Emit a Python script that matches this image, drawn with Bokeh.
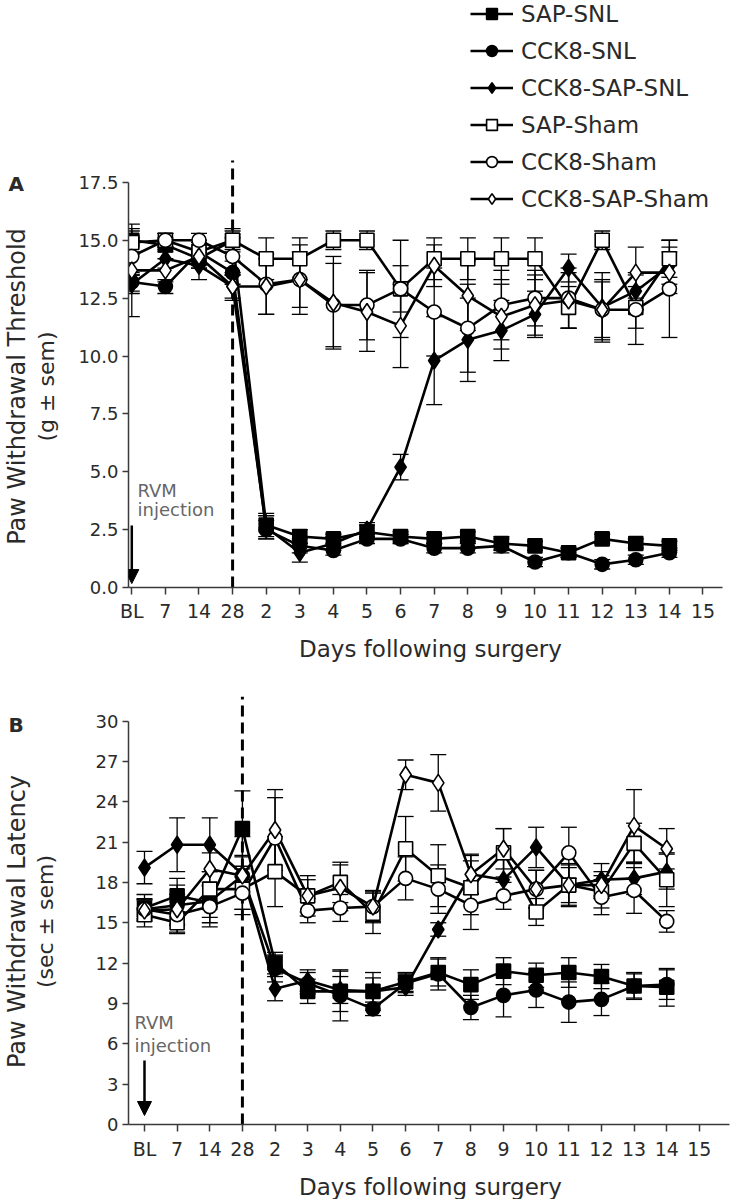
import numpy as np
from bokeh.plotting import figure
from bokeh.models import (ColumnDataSource, Range1d, FixedTicker, Whisker, TeeHead, Label,
                          Arrow, NormalHead, Legend, LegendItem, NumeralTickFormatter)
from bokeh.layouts import column, row
from bokeh.embed import file_html
from bokeh.resources import INLINE

FONT = "DejaVu Sans"

# ---------------- data ----------------
x_labels = ["BL", "7", "14", "28", "2", "3", "4", "5", "6", "7", "8", "9", "10", "11", "12", "13", "14", "15"]
injection_label_index = 3  # the "28" column (RVM injection / surgery boundary)

series_names = ["SAP-SNL", "CCK8-SNL", "CCK8-SAP-SNL", "SAP-Sham", "CCK8-Sham", "CCK8-SAP-Sham"]
series_markers = ["square", "circle", "diamond", "square", "circle", "diamond"]
series_fills = ["black", "black", "black", "white", "white", "white"]

# Panel A: paw withdrawal threshold (g)
a_sap_snl = [15.0, 14.8, 14.2, 15.0, 2.7, 2.2, 2.1, 2.4, 2.2, 2.1, 2.2, 1.9, 1.8, 1.5, 2.1, 1.9, 1.8]
a_cck_snl = [13.2, 13.0, 14.5, 13.6, 2.5, 1.8, 1.6, 2.1, 2.1, 1.7, 1.7, 1.8, 1.1, 1.5, 1.0, 1.2, 1.5]
a_cck_sap_snl = [13.1, 14.2, 13.9, 13.0, 2.6, 1.5, 1.9, 2.5, 5.2, 9.8, 10.7, 11.1, 11.8, 13.8, 12.1, 12.8, 13.9]
a_sap_sham = [14.9, 15.0, 14.5, 15.0, 14.2, 14.2, 15.0, 15.0, 12.9, 14.2, 14.2, 14.2, 14.2, 12.1, 15.0, 12.1, 14.2]
a_cck_sham = [14.3, 15.0, 15.0, 14.3, 13.1, 13.3, 12.2, 12.2, 12.9, 11.9, 11.2, 12.2, 12.5, 12.5, 12.0, 12.0, 12.9]
a_cck_sap_sham = [13.7, 13.7, 14.3, 13.0, 13.0, 13.3, 12.3, 11.9, 11.3, 13.9, 12.6, 11.7, 12.2, 12.4, 12.0, 13.6, 13.6]

a_sap_snl_err = [0.5, 0.3, 0.4, 0.5, 0.5, 0.3, 0.2, 0.3, 0.2, 0.2, 0.2, 0.3, 0.2, 0.2, 0.2, 0.2, 0.2]
a_cck_snl_err = [0.4, 0.3, 0.4, 0.5, 0.4, 0.3, 0.2, 0.2, 0.2, 0.2, 0.2, 0.3, 0.2, 0.2, 0.2, 0.2, 0.2]
a_cck_sap_snl_err = [0.4, 0.4, 0.6, 0.5, 0.5, 0.4, 0.3, 0.3, 0.55, 1.9, 1.8, 1.3, 1.0, 0.6, 1.5, 0.8, 0.8]
a_sap_sham_err = [0.5, 0.3, 0.5, 0.4, 0.9, 0.9, 0.4, 0.4, 2.1, 0.9, 0.9, 0.9, 0.9, 0.9, 0.4, 0.9, 0.8]
a_cck_sham_err = [0.8, 0.3, 0.3, 0.8, 1.3, 1.5, 1.8, 1.5, 1.0, 1.9, 1.9, 1.5, 1.2, 1.3, 1.2, 1.5, 2.1]
a_cck_sap_sham_err = [2.0, 0.5, 0.5, 0.6, 1.2, 1.2, 2.0, 1.7, 1.8, 0.9, 1.5, 1.4, 1.3, 1.2, 1.3, 1.1, 0.9]

# Panel B: paw withdrawal latency (sec)
b_sap_snl = [16.1, 17.0, 16.5, 22.0, 12.0, 9.9, 9.9, 9.9, 10.6, 11.3, 10.4, 11.4, 11.1, 11.3, 11.0, 10.3, 10.2]
b_cck_snl = [16.0, 16.3, 16.6, 18.5, 11.6, 10.5, 9.6, 8.6, 10.5, 11.2, 8.7, 9.6, 10.0, 9.1, 9.3, 10.3, 10.4]
b_cck_sap_snl = [19.1, 20.8, 20.8, 18.6, 10.1, 10.7, 10.0, 9.9, 10.2, 14.5, 18.6, 18.2, 20.6, 17.8, 18.2, 18.3, 18.8]
b_sap_sham = [15.6, 15.0, 17.5, 17.5, 18.8, 17.0, 18.0, 15.7, 20.5, 18.5, 17.6, 20.2, 15.8, 17.8, 17.3, 20.9, 18.2]
b_cck_sham = [16.0, 15.6, 16.2, 17.2, 21.3, 15.9, 16.1, 16.2, 18.3, 17.5, 16.3, 17.0, 17.5, 20.2, 16.9, 17.4, 15.1]
b_cck_sap_sham = [15.9, 16.0, 19.0, 18.5, 21.9, 17.0, 17.6, 16.2, 26.0, 25.4, 18.6, 20.5, 17.5, 17.8, 17.8, 22.2, 20.5]

b_sap_snl_err = [0.6, 1.3, 1.5, 2.8, 0.8, 0.9, 1.5, 1.4, 0.7, 1.0, 1.1, 1.0, 0.9, 1.1, 0.9, 1.0, 1.4]
b_cck_snl_err = [0.7, 1.5, 1.2, 1.5, 1.0, 0.8, 1.9, 0.5, 0.7, 1.2, 0.9, 1.6, 1.3, 1.5, 1.2, 0.9, 1.1]
b_cck_sap_snl_err = [1.2, 2.0, 2.0, 1.3, 0.9, 0.8, 1.0, 1.0, 0.6, 0.5, 1.5, 1.5, 1.5, 1.3, 1.2, 1.2, 1.3]
b_sap_sham_err = [0.5, 0.8, 1.3, 1.5, 2.6, 1.2, 1.5, 1.5, 2.4, 2.3, 2.0, 1.8, 1.0, 1.6, 1.2, 1.5, 2.0]
b_cck_sham_err = [0.8, 1.3, 1.5, 1.2, 3.0, 0.9, 1.0, 1.1, 1.6, 1.8, 1.8, 1.0, 1.4, 1.9, 1.3, 1.7, 0.8]
b_cck_sap_sham_err = [1.2, 1.1, 1.2, 2.9, 3.0, 1.5, 1.7, 1.2, 1.1, 2.1, 1.4, 1.5, 1.4, 1.5, 1.0, 2.7, 1.5]

a_values = [a_sap_snl, a_cck_snl, a_cck_sap_snl, a_sap_sham, a_cck_sham, a_cck_sap_sham]
a_errors = [a_sap_snl_err, a_cck_snl_err, a_cck_sap_snl_err, a_sap_sham_err, a_cck_sham_err, a_cck_sap_sham_err]
b_values = [b_sap_snl, b_cck_snl, b_cck_sap_snl, b_sap_sham, b_cck_sham, b_cck_sap_sham]
b_errors = [b_sap_snl_err, b_cck_snl_err, b_cck_sap_snl_err, b_sap_sham_err, b_cck_sham_err, b_cck_sap_sham_err]

a_yticks = [0, 2.5, 5.0, 7.5, 10.0, 12.5, 15.0, 17.5]
b_yticks = [0, 3, 6, 9, 12, 15, 18, 21, 24, 27, 30]

AXIS_COLOR = "#3a3a3a"
TEXT_COLOR = "#2a2a2a"
GRAY_TEXT = "#666666"

SIDE_W = 62
MAIN_W = 670
TOTAL_H = 1199


def make_panel(values, errors, yticks, yfmt, x_range, y_range, frame_h, border_top, border_bottom,
               xaxis_end, dash_top, arrow_top, arrow_bottom, rvm_pos, tick_standoff, with_legend):
    p = figure(frame_width=MAIN_W - 66, frame_height=frame_h, output_backend="svg",
               toolbar_location=None, x_range=Range1d(*x_range), y_range=Range1d(*y_range),
               title=None, min_border_left=66, min_border_right=0, min_border_top=border_top,
               min_border_bottom=border_bottom)
    p.outline_line_color = None
    p.xgrid.visible = False
    p.ygrid.visible = False

    for ax in (p.xaxis[0], p.yaxis[0]):
        ax.axis_line_color = AXIS_COLOR
        ax.axis_line_width = 1.5
        ax.major_tick_line_color = AXIS_COLOR
        ax.major_tick_line_width = 1.5
        ax.major_tick_in = 0
        ax.minor_tick_line_color = None
        ax.major_label_text_font = FONT
        ax.major_label_text_font_size = "18px"
        ax.major_label_text_color = TEXT_COLOR

    xa = p.xaxis[0]
    xa.ticker = FixedTicker(ticks=list(range(len(x_labels))))
    xa.major_label_overrides = {i: lab for i, lab in enumerate(x_labels)}
    xa.major_label_text_font_size = "19px"
    xa.bounds = (x_range[0], xaxis_end)
    xa.major_tick_out = 7
    xa.major_label_standoff = tick_standoff
    xa.axis_label = "Days following surgery"
    xa.axis_label_text_font = FONT
    xa.axis_label_text_font_size = "23px"
    xa.axis_label_text_font_style = "normal"
    xa.axis_label_text_color = TEXT_COLOR
    xa.axis_label_standoff = 11

    ya = p.yaxis[0]
    ya.ticker = FixedTicker(ticks=yticks)
    ya.formatter = NumeralTickFormatter(format=yfmt)
    ya.bounds = (yticks[0], yticks[-1])
    ya.major_tick_out = 6
    ya.major_label_standoff = 4

    xs = list(range(len(values[0])))
    sources = []
    for vals, errs in zip(values, errors):
        src = ColumnDataSource(dict(
            x=xs, y=vals,
            lower=[v - e for v, e in zip(vals, errs)],
            upper=[v + e for v, e in zip(vals, errs)]))
        sources.append(src)
        w = Whisker(source=src, base="x", upper="upper", lower="lower", dimension="height",
                    line_color="black", line_width=1.3, level="underlay",
                    upper_head=TeeHead(size=16, line_color="black", line_width=1.3),
                    lower_head=TeeHead(size=16, line_color="black", line_width=1.3))
        p.add_layout(w)

    # injection / surgery divider
    p.segment(x0=[injection_label_index], y0=[y_range[0]], x1=[injection_label_index], y1=[dash_top],
              line_color="black", line_width=3, line_dash="11 6")

    line_renderers = []
    for src in sources:
        lr = p.line("x", "y", source=src, line_color="black", line_width=2.6)
        line_renderers.append(lr)
    marker_renderers = []
    for src, mk, fc in zip(sources, series_markers, series_fills):
        size = 17 if mk == "diamond" else 14
        mr = p.scatter("x", "y", source=src, marker=mk, size=size, fill_color=fc,
                       line_color="black", line_width=1.6)
        marker_renderers.append(mr)

    # RVM injection arrow + note
    p.add_layout(Arrow(x_start=0, y_start=arrow_top, x_end=0, y_end=arrow_bottom,
                       line_color="black", line_width=2.5,
                       end=NormalHead(size=14, fill_color="black", line_color="black")))
    rx, ry1, ry2 = rvm_pos
    for yy, t in ((ry1, "RVM"), (ry2, "injection")):
        p.add_layout(Label(x=rx, y=yy, text=t, text_font=FONT, text_font_size="18px",
                           text_color=GRAY_TEXT, text_align="left", text_baseline="middle"))

    if with_legend:
        items = [LegendItem(label=n, renderers=[lr, mr])
                 for n, lr, mr in zip(series_names, line_renderers, marker_renderers)]
        lg = Legend(items=items, location=(342, frame_h - 212), orientation="vertical",
                    label_text_font=FONT, label_text_font_size="23px", label_text_color=TEXT_COLOR,
                    glyph_width=43, glyph_height=27, label_height=27, spacing=10,
                    padding=0, margin=0, label_standoff=8,
                    background_fill_alpha=0, border_line_alpha=0)
        p.add_layout(lg)
    return p


pa = make_panel(a_values, a_errors, a_yticks, "0.0",
                x_range=(-0.098, -0.098 + 604 / 33.6), y_range=(0, 587 / 23.15),
                frame_h=587, border_top=0, border_bottom=78, xaxis_end=17.58,
                dash_top=18.45, arrow_top=2.68, arrow_bottom=0.17,
                rvm_pos=(0.17, 4.19, 3.37), tick_standoff=5, with_legend=True)
pb = make_panel(b_values, b_errors, b_yticks, "0",
                x_range=(-0.49, -0.49 + 604 / 32.64), y_range=(0, 444 / 13.45),
                frame_h=444, border_top=15, border_bottom=75, xaxis_end=17.92,
                dash_top=31.8, arrow_top=4.76, arrow_bottom=0.67,
                rvm_pos=(-0.31, 7.58, 5.87), tick_standoff=6, with_legend=False)

# left strip holding panel letters and y-axis titles (pixel coordinates, y measured from top)
side = figure(width=SIDE_W, height=TOTAL_H, output_backend="svg", toolbar_location=None,
              x_range=Range1d(0, SIDE_W), y_range=Range1d(TOTAL_H, 0), title=None,
              x_axis_location=None, y_axis_location=None, min_border=0)
side.outline_line_color = None
side.xgrid.visible = False
side.ygrid.visible = False

side_texts = [
    (8, 183, "A", "20px", "bold", 0.0, "left"),
    (16, 386, "Paw Withdrawal Threshold", "24px", "normal", np.pi / 2, "center"),
    (46, 386, "(g \u00b1 sem)", "22px", "normal", np.pi / 2, "center"),
    (8, 724, "B", "20px", "bold", 0.0, "left"),
    (16, 921, "Paw Withdrawal Latency", "24px", "normal", np.pi / 2, "center"),
    (45, 921, "(sec \u00b1 sem)", "22px", "normal", np.pi / 2, "center"),
]
for x, y, t, size, style, ang, align in side_texts:
    side.add_layout(Label(x=x, y=y, text=t, text_font=FONT, text_font_size=size,
                          text_font_style=style, angle=ang, text_color=TEXT_COLOR,
                          text_align=align, text_baseline="middle"))

layout = row(side, column(pa, pb, spacing=0), spacing=0)
open("out.html", "w").write(file_html(layout, INLINE))
